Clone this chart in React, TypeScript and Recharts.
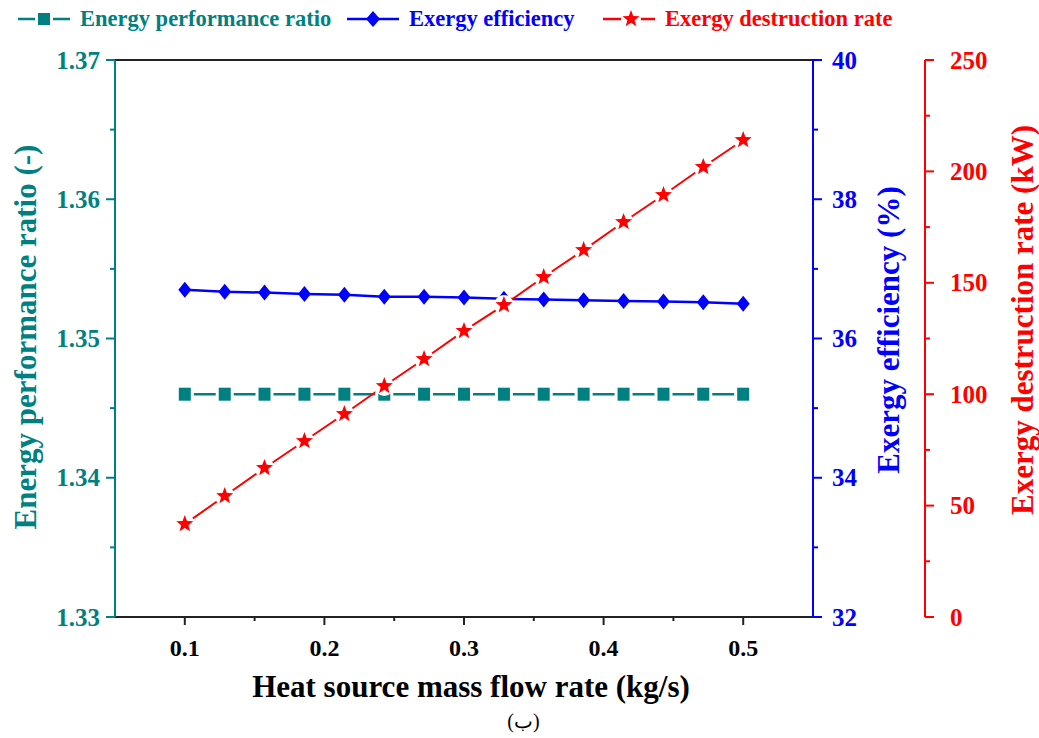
import React from "react";
import { ComposedChart, Line, XAxis, YAxis, ReferenceLine } from "recharts";

// heat source mass flow rate (kg/s)
const flowRates = [0.1, 0.1286, 0.1571, 0.1857, 0.2143, 0.2429, 0.2714, 0.3, 0.3286, 0.3571, 0.3857, 0.4143, 0.4429, 0.4714, 0.5];
const energyRatio = [1.346, 1.346, 1.346, 1.346, 1.346, 1.346, 1.346, 1.346, 1.346, 1.346, 1.346, 1.346, 1.346, 1.346, 1.346];
const exergyEff = [36.7, 36.67, 36.66, 36.64, 36.63, 36.6, 36.6, 36.59, 36.57, 36.56, 36.55, 36.54, 36.53, 36.52, 36.5];
const exergyDest = [41.7, 54.3, 66.9, 79.0, 91.1, 103.7, 115.8, 128.4, 140.0, 152.6, 164.7, 177.3, 189.4, 202.0, 214.1];

const xTicks = [0.1, 0.15, 0.2, 0.25, 0.3, 0.35, 0.4, 0.45, 0.5];
const ratioTicks = [1.33, 1.335, 1.34, 1.345, 1.35, 1.355, 1.36, 1.365, 1.37];
const effTicks = [32, 33, 34, 35, 36, 37, 38, 39, 40];
const destTicks = [0, 25, 50, 75, 100, 125, 150, 175, 200, 225, 250];

const TEAL = "#008080";
const BLUE = "#0000ff";
const RED = "#ff0000";
const FONT = "'Liberation Serif', 'Times New Roman', serif";

const data = flowRates.map((x, i) => ({
  x,
  ratio: energyRatio[i],
  eff: exergyEff[i],
  dest: exergyDest[i],
}));

const near = (v: number, step: number) => Math.abs(v / step - Math.round(v / step)) < 1e-6;

const makeTick =
  (side: "left" | "right" | "bottom", color: string, major: (v: number) => boolean, fmt: (v: number) => string, gap: number) =>
  (props: any) => {
    const { x, y, payload } = props;
    const v = payload.value;
    const isMajor = major(v);
    const len = isMajor ? 9 : 5;
    const txt = { fill: color, fontFamily: FONT, fontWeight: 700, fontSize: 25 };
    if (side === "left") {
      return (
        <g>
          <line x1={x} x2={x - len} y1={y} y2={y} stroke={color} strokeWidth={2} />
          {isMajor && (
            <text x={x - gap} y={y} textAnchor="end" dominantBaseline="central" {...txt}>
              {fmt(v)}
            </text>
          )}
        </g>
      );
    }
    if (side === "right") {
      return (
        <g>
          <line x1={x} x2={x + len} y1={y} y2={y} stroke={color} strokeWidth={2} />
          {isMajor && (
            <text x={x + gap} y={y} textAnchor="start" dominantBaseline="central" {...txt}>
              {fmt(v)}
            </text>
          )}
        </g>
      );
    }
    return (
      <g>
        <line x1={x} x2={x} y1={y} y2={y + (isMajor ? 8 : 4)} stroke="#222" strokeWidth={2} />
        {isMajor && (
          <text x={x} y={y + gap} textAnchor="middle" dominantBaseline="central" {...txt} fontSize={24}>
            {fmt(v)}
          </text>
        )}
      </g>
    );
  };

const starPoints = (cx: number, cy: number, ro: number, ri: number) => {
  const pts: string[] = [];
  for (let i = 0; i < 10; i++) {
    const r = i % 2 === 0 ? ro : ri;
    const a = -Math.PI / 2 + (i * Math.PI) / 5;
    pts.push(`${cx + r * Math.cos(a)},${cy + r * Math.sin(a)}`);
  }
  return pts.join(" ");
};

const SquareDot = (props: any) => {
  const { cx, cy } = props;
  if (cx == null || cy == null) return null;
  return (
    <g>
      <rect x={cx - 9} y={cy - 9} width={18} height={18} fill="#fff" />
      <rect x={cx - 6} y={cy - 6.5} width={12} height={13} fill={TEAL} />
    </g>
  );
};

const DiamondDot = (props: any) => {
  const { cx, cy } = props;
  if (cx == null || cy == null) return null;
  return <polygon points={`${cx},${cy - 8} ${cx + 6.5},${cy} ${cx},${cy + 8} ${cx - 6.5},${cy}`} fill={BLUE} />;
};

const StarDot = (props: any) => {
  const { cx, cy } = props;
  if (cx == null || cy == null) return null;
  return (
    <g>
      <circle cx={cx} cy={cy} r={10} fill="#fff" />
      <polygon points={starPoints(cx, cy, 9, 3.8)} fill={RED} />
    </g>
  );
};

const titleStyle = { fontFamily: FONT, fontWeight: 700, fontSize: 31 };

const LegendItem = ({ left, color, shape, text }: { left: number; color: string; shape: string; text: string }) => (
  <div style={{ position: "absolute", left, top: 4, height: 30, display: "flex", alignItems: "center" }}>
    <svg width={56} height={30}>
      <line x1={0} x2={52} y1={15} y2={15} stroke={color} strokeWidth={2.5} />
      {shape === "square" && (
        <>
          <rect x={17} y={7} width={18} height={16} fill="#fff" />
          <rect x={20} y={9} width={12} height={12} fill={color} />
        </>
      )}
      {shape === "diamond" && <polygon points="26,7 33,15 26,23 19,15" fill={color} />}
      {shape === "star" && (
        <>
          <circle cx={28} cy={15} r={10} fill="#fff" />
          <polygon points={starPoints(28, 15, 9, 3.8)} fill={color} />
        </>
      )}
    </svg>
    <span style={{ color, fontFamily: FONT, fontWeight: 700, fontSize: 22.5, marginLeft: 6 }}>{text}</span>
  </div>
);

export default function App() {
  return (
    <div style={{ position: "absolute", left: 0, top: 0, width: 1039, height: 738, background: "#fff" }}>
      <LegendItem left={18} color={TEAL} shape="square" text="Energy performance ratio" />
      <LegendItem left={347} color={BLUE} shape="diamond" text="Exergy efficiency" />
      <LegendItem left={603} color={RED} shape="star" text="Exergy destruction rate" />
      <div style={{ position: "absolute", left: 0, top: 0 }}>
        <ComposedChart width={1039} height={738} data={data} margin={{ top: 60, right: 0, bottom: 51, left: 0 }}>
          <XAxis
            dataKey="x"
            type="number"
            domain={[0.05, 0.55]}
            ticks={xTicks}
            interval={0}
            height={70}
            tickSize={0}
            tickMargin={0}
            tickLine={false}
            axisLine={{ stroke: "#222", strokeWidth: 2 }}
            tick={makeTick("bottom", "#000", (v) => near(v, 0.1), (v) => v.toFixed(1), 31)}
            label={(p: any) => {
              const vb = p.viewBox;
              return (
                <text x={vb.x + vb.width / 2 + 7} y={vb.y + 69} textAnchor="middle" dominantBaseline="central" fill="#000" {...titleStyle}>
                  Heat source mass flow rate (kg/s)
                </text>
              );
            }}
          />
          <YAxis
            yAxisId="ratio"
            orientation="left"
            width={115}
            domain={[1.33, 1.37]}
            ticks={ratioTicks}
            interval={0}
            tickSize={0}
            tickMargin={0}
            tickLine={false}
            axisLine={{ stroke: TEAL, strokeWidth: 2 }}
            tick={makeTick("left", TEAL, (v) => near(v, 0.01), (v) => v.toFixed(2), 15)}
            label={() => (
              <text x={25} y={337} transform={`rotate(-90 25 337)`} textAnchor="middle" dominantBaseline="central" fill={TEAL} {...titleStyle}>
                Energy performance ratio (-)
              </text>
            )}
          />
          <YAxis
            yAxisId="eff"
            orientation="right"
            width={112}
            domain={[32, 40]}
            ticks={effTicks}
            interval={0}
            tickSize={0}
            tickMargin={0}
            tickLine={false}
            axisLine={{ stroke: BLUE, strokeWidth: 2 }}
            tick={makeTick("right", BLUE, (v) => near(v, 2), (v) => String(v), 19)}
            label={() => (
              <text x={888} y={330} transform={`rotate(-90 888 330)`} textAnchor="middle" dominantBaseline="central" fill={BLUE} {...titleStyle}>
                Exergy efficiency (%)
              </text>
            )}
          />
          <YAxis
            yAxisId="rate"
            orientation="right"
            width={114}
            domain={[0, 250]}
            ticks={destTicks}
            interval={0}
            tickSize={0}
            tickMargin={0}
            tickLine={false}
            axisLine={{ stroke: RED, strokeWidth: 2 }}
            tick={makeTick("right", RED, (v) => near(v, 50), (v) => String(v), 25)}
            label={() => (
              <text x={1022} y={320} transform={`rotate(-90 1022 320)`} textAnchor="middle" dominantBaseline="central" fill={RED} {...titleStyle}>
                Exergy destruction rate (kW)
              </text>
            )}
          />
          <ReferenceLine yAxisId="ratio" y={1.37} stroke="#222" strokeWidth={2} />
          <Line yAxisId="ratio" dataKey="ratio" stroke={TEAL} strokeWidth={2.5} dot={<SquareDot />} isAnimationActive={false} />
          <Line yAxisId="eff" dataKey="eff" stroke={BLUE} strokeWidth={2.5} dot={<DiamondDot />} isAnimationActive={false} />
          <Line yAxisId="rate" dataKey="dest" stroke={RED} strokeWidth={2} dot={<StarDot />} isAnimationActive={false} />
        </ComposedChart>
      </div>
      <div style={{ position: "absolute", left: 0, width: 1039, top: 709, textAlign: "center", paddingLeft: 4, fontFamily: FONT, fontSize: 20 }}>
        (ب)
      </div>
    </div>
  );
}
